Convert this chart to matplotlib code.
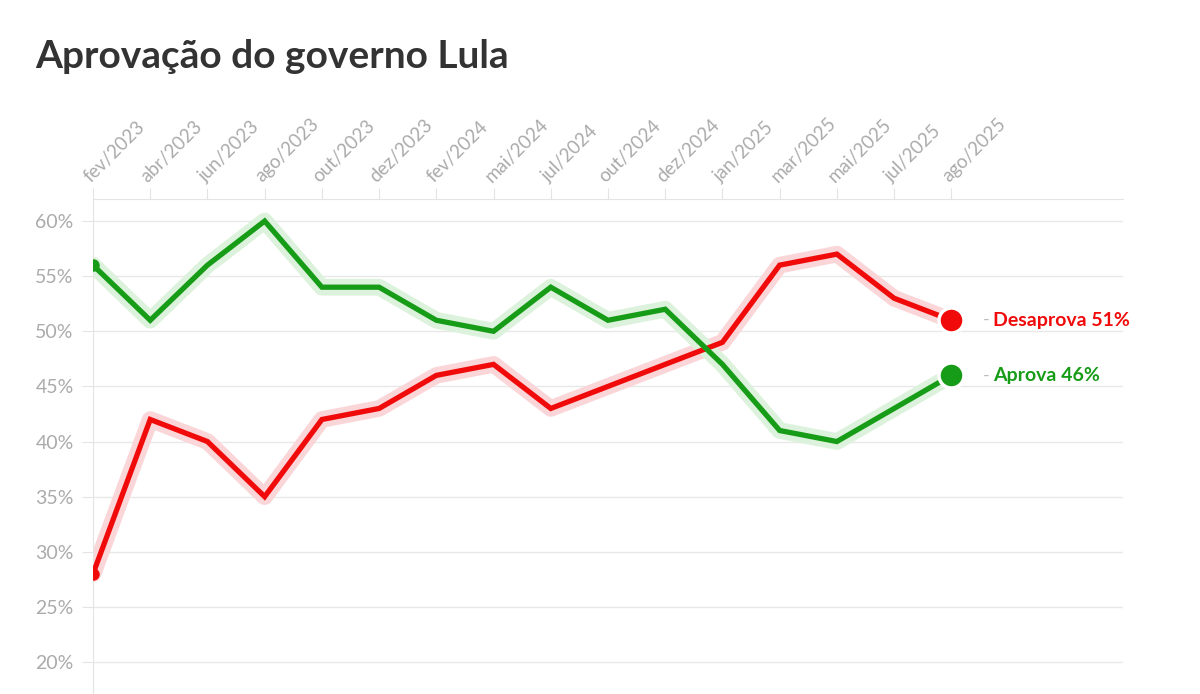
import numpy as np
import matplotlib.pyplot as plt

plt.rcParams['font.family'] = ['Lato', 'DejaVu Sans']

# Dados das pesquisas
meses = ['fev/2023', 'abr/2023', 'jun/2023', 'ago/2023', 'out/2023', 'dez/2023',
         'fev/2024', 'mai/2024', 'jul/2024', 'out/2024', 'dez/2024', 'jan/2025',
         'mar/2025', 'mai/2025', 'jul/2025', 'ago/2025']
aprova = [56, 51, 56, 60, 54, 54, 51, 50, 54, 51, 52, 47, 41, 40, 43, 46]
desaprova = [28, 42, 40, 35, 42, 43, 46, 47, 43, 45, 47, 49, 56, 57, 53, 51]
y_ticks = [20, 25, 30, 35, 40, 45, 50, 55, 60]

verde = '#179c17'
vermelho = '#f00a0a'
cinza = '#ababab'

fig = plt.figure(figsize=(12, 6.94), dpi=100)
ax = fig.add_axes([93 / 1200, 0, (1123 - 93) / 1200, (694 - 199) / 694])

x = np.arange(len(meses))

for serie, cor, brilho, nome in [(desaprova, vermelho, '#fbd6d9', 'Desaprova'),
                                 (aprova, verde, '#dcf2dc', 'Aprova')]:
    ax.plot(x, serie, color=brilho, lw=12, solid_capstyle='round',
            solid_joinstyle='round', zorder=2)
    ax.plot(x, serie, color=cor, lw=3.8, solid_joinstyle='miter', zorder=3)
    ax.plot(x[0], serie[0], 'o', color=cor, ms=9, mec='none', zorder=4)
    ax.plot(x[-1], serie[-1], 'o', color=cor, ms=18, mec='white', mew=2.5, zorder=5)
    ax.annotate('-', (x[-1], serie[-1]), xytext=(23, 0), textcoords='offset points',
                va='center', ha='left', color='#bbbbbb', fontsize=13)
    ax.annotate(f'{nome} {serie[-1]}%', (x[-1], serie[-1]), xytext=(30, 0),
                textcoords='offset points', va='center', ha='left', color=cor,
                fontsize=14, fontweight='bold')

ax.set_xlim(0, 18)
ax.set_ylim(17.1, 62)

ax.xaxis.tick_top()
ax.set_xticks(x)
ax.set_xticklabels(meses, rotation=45, ha='left', va='bottom',
                   rotation_mode='anchor', color=cinza, fontsize=13.5)
ax.tick_params(axis='x', length=8, color='#e4e4e4', pad=2)

ax.set_yticks(y_ticks)
ax.set_yticklabels([f'{v}%' for v in y_ticks], color=cinza, fontsize=14)
ax.tick_params(axis='y', length=8, color='#e4e4e4', pad=6)
ax.grid(axis='y', color='#e8e8e8', lw=1)

for lado in ['right', 'bottom']:
    ax.spines[lado].set_visible(False)
ax.spines['top'].set_color('#e4e4e4')
ax.spines['left'].set_color('#e4e4e4')
ax.set_axisbelow(True)

fig.text(35 / 1200, 1 - 68 / 694, 'Aprovação do governo Lula', fontsize=28,
         fontweight='bold', color='#333333', ha='left', va='baseline')

fig.savefig('out.png', dpi=100)
